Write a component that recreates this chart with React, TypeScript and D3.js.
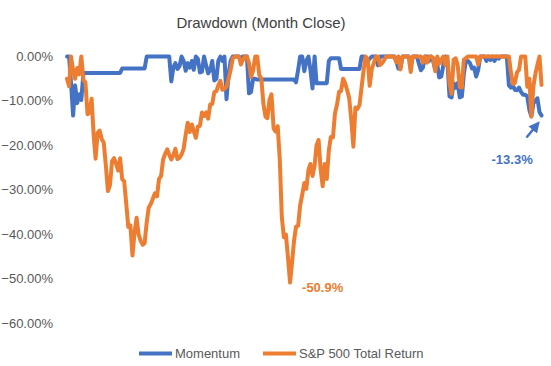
import React from "react";
import * as d3 from "d3";

// Monthly closes, Jan 2000 .. May 2019
const startMonth = new Date(2000, 0, 1);
const endMonth = new Date(2019, 4, 1);
const months = d3.timeMonth.range(startMonth, d3.timeMonth.offset(endMonth, 1));

// S&P 500 Total Return drawdown (%)
const sp500 = [
  -5.0, -6.7, 0, -3.1, -5.0, -2.6, -4.0, 0, -5.3, -5.8, -13.0, -12.6,
  -9.5, -17.8, -23.0, -17.2, -16.7, -18.6, -19.4, -24.5, -30.3, -29.0, -23.6, -22.9,
  -24.2, -25.7, -22.9, -27.6, -28.1, -33.2, -38.4, -38.0, -44.8, -39.8, -36.3, -40.0,
  -41.5, -42.4, -42.0, -37.3, -34.0, -33.2, -32.0, -30.8, -31.5, -27.6, -26.9, -23.2,
  -21.9, -20.9, -22.1, -23.2, -22.2, -20.8, -23.1, -22.8, -22.0, -20.8, -17.6, -14.9,
  -17.0, -15.3, -16.8, -18.3, -15.8, -15.6, -12.6, -13.4, -12.6, -14.0, -10.8, -10.7,
  -8.0, -7.8, -6.5, -5.5, -7.5, -7.3, -6.8, -5.0, -3.0, -0.5, 0, 0,
  0, -1.8, -0.8, 0, 0, -1.5, -4.6, -3.2, 0, 0, -4.2, -4.9,
  -10.6, -13.5, -13.9, -9.7, -8.5, -16.2, -16.9, -15.7, -23.2, -36.1, -40.7, -40.1,
  -45.3, -50.9, -46.6, -41.5, -38.3, -38.1, -33.5, -31.1, -28.5, -29.8, -25.6, -24.2,
  -26.9, -24.6, -20.1, -18.8, -25.3, -29.2, -24.2, -27.6, -21.1, -18.1, -18.2, -12.8,
  -10.8, -7.9, -7.8, -5.0, -6.0, -7.6, -9.4, -14.3, -20.3, -11.5, -11.8, -10.9,
  -7.0, -3.0, 0, -0.6, -6.6, -2.8, -1.5, 0, 0, -1.9, -1.5, -0.8,
  0, 0, 0, 0, 0, -1.3, 0, -2.9, 0, 0, 0, 0,
  -3.5, 0, 0, 0, 0, 0, -1.4, 0, -1.4, 0, 0, -0.3,
  -3.3, 0, -1.6, -0.7, 0, -1.9, 0, -6.0, -8.4, -0.7, -0.4, -2.0,
  -6.9, -7.0, -0.7, -0.4, 0, 0, 0, 0, 0, -1.8, 0, 0,
  0, 0, 0, 0, 0, 0, 0, 0, 0, 0, 0, 0,
  0, -3.7, -6.2, -5.9, -3.6, -3.0, 0, 0, 0, -6.8, -5.0, -13.5,
  -6.6, -3.8, -1.9, 0, -6.4,
];

// Momentum strategy drawdown (%)
const momentum = [
  0, 0, -6.0, -13.3, -6.5, -10.5, -8.5, -9.8, -3.7, -3.7, -3.7, -3.7,
  -3.7, -3.7, -3.7, -3.7, -3.7, -3.7, -3.7, -3.7, -3.7, -3.7, -3.7, -3.7,
  -3.7, -3.7, -3.7, -2.7, -2.7, -2.7, -2.7, -2.7, -2.7, -2.7, -2.7, -2.7,
  -2.7, -2.7, -2.7, 0, 0, 0, 0, 0, 0, 0, 0, 0,
  0, 0, 0, -5.6, -2.5, -1.5, -2.8, -2.2, 0, -1.0, -3.2, -1.5,
  -2.5, -1.0, -3.0, 0, -0.5, -3.6, -3.4, 0, -2.0, -3.8, -3.0, -1.0,
  -5.4, -5.0, -1.0, 0, -1.0, 0, -9.6, -4.0, -1.0, 0, 0, 0,
  0, -0.5, 0, 0, 0, -8.3, -8.0, -5.0, -5.0, -5.2, -5.2, -5.2,
  -5.2, -5.2, -5.2, -5.2, -5.2, -5.2, -5.2, -5.2, -5.2, -5.2, -5.2, -5.2,
  -5.2, -5.2, -5.2, -5.2, -5.8, -3.0, 0, 0, -3.3, -1.0, 0, -3.0,
  -7.2, 0, -6.0, -6.0, -6.0, -6.0, -6.0, -6.0, -1.0, -0.4, -0.4, -0.4,
  -0.4, -0.4, -2.8, -2.8, -2.8, -2.8, -2.8, -2.8, -2.8, -2.8, -2.8, -2.8,
  0, 0, -0.3, -1.0, -0.5, 0, 0, 0, -2.0, 0, 0, 0,
  0, 0, 0, 0, 0, -1.0, -2.7, -2.5, 0, 0, 0, 0,
  -1.5, 0, 0, 0, -1.5, -3.1, -2.5, 0, 0, -1.0, 0, -1.0,
  -3.0, -2.0, -4.7, -4.5, -2.0, 0, -1.0, -9.0, -9.2, -6.0, -7.0, -6.0,
  -9.2, -9.0, -4.0, -1.0, -1.0, -1.5, -2.7, -2.5, -4.5, -3.0, 0, 0,
  0, -1.0, 0, -0.8, 0, -1.0, 0, -0.5, 0, 0, 0, 0,
  -6.5, -7.0, -6.5, -7.5, -7.6, -7.0, -8.0, -8.6, -8.6, -9.0, -12.0, -13.5,
  -10.5, -10.0, -9.4, -12.5, -13.3,
];

const yTicks = [0, -10, -20, -30, -40, -50, -60];
const seriesNames = ["Momentum", "S&P 500 Total Return"];
const colors = ["#4472C4", "#ED7D31"];
const title = "Drawdown (Month Close)";
const spMinLabel = "-50.9%";
const momEndLabel = "-13.3%";

const W = 551;
const H = 366;
const FONT = "'Liberation Sans', Arial, sans-serif";

export default function App() {
  const x = d3.scaleTime().domain([startMonth, endMonth]).range([67, 541.5]);
  const y = d3.scaleLinear().domain([-60, 0]).range([323, 56.5]);

  const line = d3
    .line<number>()
    .x((_, i) => x(months[i]))
    .y((d) => y(d));

  const minIdx = d3.minIndex(sp500);
  const lastIdx = momentum.length - 1;
  const minX = x(months[minIdx]);
  const minY = y(sp500[minIdx]);
  const endX = x(months[lastIdx]);
  const endY = y(momentum[lastIdx]);

  return (
    <svg
      width={W}
      height={H}
      style={{ position: "absolute", left: 0, top: 0, background: "#fff" }}
      fontFamily={FONT}
    >
      <defs>
        <marker
          id="arrowHead"
          viewBox="0 0 10 10"
          refX="4"
          refY="5"
          markerWidth="4.5"
          markerHeight="4.5"
          orient="auto"
        >
          <path d="M0,0 L10,5 L0,10 z" fill={colors[0]} />
        </marker>
      </defs>
      <rect width={W} height={H} fill="#fff" />
      <text x={261} y={28} textAnchor="middle" fontSize={15} fill="#404040">
        {title}
      </text>
      {yTicks.map((t) => (
        <text
          key={t}
          x={53}
          y={y(t)}
          dy="0.35em"
          textAnchor="end"
          fontSize={13}
          fill="#595959"
        >
          {d3.format(".2f")(t) + "%"}
        </text>
      ))}
      <path
        d={line(momentum) || ""}
        fill="none"
        stroke={colors[0]}
        strokeWidth={4}
        strokeLinejoin="round"
        strokeLinecap="round"
      />
      <path
        d={line(sp500) || ""}
        fill="none"
        stroke={colors[1]}
        strokeWidth={4}
        strokeLinejoin="round"
        strokeLinecap="round"
      />
      <text
        x={minX + 12}
        y={minY + 9}
        fontSize={13}
        fontWeight="bold"
        fill={colors[1]}
      >
        {spMinLabel}
      </text>
      <line
        x1={endX - 15}
        y1={endY + 22}
        x2={endX - 6}
        y2={endY + 11}
        stroke={colors[0]}
        strokeWidth={2.5}
        markerEnd="url(#arrowHead)"
      />
      <text
        x={endX - 50}
        y={endY + 48}
        fontSize={13}
        fontWeight="bold"
        fill={colors[0]}
      >
        {momEndLabel}
      </text>
      {seriesNames.map((name, i) => {
        const lx = [139, 263][i];
        return (
          <g key={name}>
            <line
              x1={lx}
              x2={lx + 33}
              y1={353.5}
              y2={353.5}
              stroke={colors[i]}
              strokeWidth={4}
            />
            <text x={lx + 36} y={358} fontSize={13} fill="#595959">
              {name}
            </text>
          </g>
        );
      })}
    </svg>
  );
}
